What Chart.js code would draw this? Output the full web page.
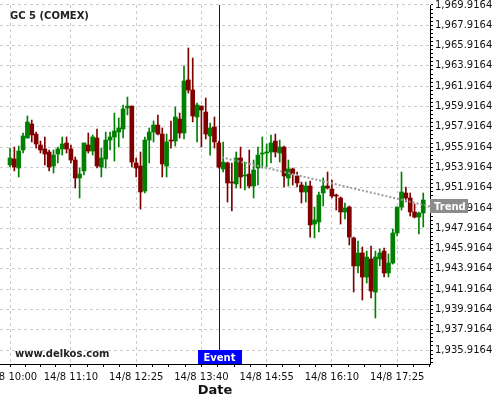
<!DOCTYPE html>
<html>
<head>
<meta charset="utf-8">
<script src="https://cdn.jsdelivr.net/npm/chart.js@4.4.0/dist/chart.umd.min.js"></script>
<style>
  html, body { margin: 0; padding: 0; background: #fff; }
  #wrap { width: 500px; height: 400px; position: relative; }
</style>
</head>
<body>
<div id="wrap"><canvas id="chart"></canvas></div>
<script>
// 5 minute candles, 14/8 starting 10:00
const opens = [
  1954.15,1954.74,1953.85,1955.63,1956.81,1958.19,1957.20,1956.12,1955.73,1955.43,
  1954.05,1955.23,1955.73,1956.32,1955.73,1954.64,1952.87,1953.56,1956.12,1955.53,
  1956.81,1953.95,1954.74,1956.61,1956.91,1957.40,1957.70,1959.77,1959.96,1954.35,
  1954.05,1951.59,1956.61,1957.40,1958.09,1957.20,1954.05,1956.61,1956.51,1958.68,
  1957.30,1962.53,1961.54,1958.88,1959.96,1959.37,1957.01,1957.89,1956.32,1953.76,
  1954.35,1952.47,1952.28,1954.84,1953.07,1953.26,1952.08,1953.85,1955.23,1955.33,
  1955.43,1956.51,1955.33,1955.92,1952.87,1953.76,1953.07,1952.18,1951.49,1952.08,
  1948.33,1948.53,1951.39,1952.08,1951.78,1951.19,1950.90,1949.52,1950.01,1946.96,
  1944.20,1945.48,1943.11,1944.89,1941.63,1944.89,1945.67,1943.51,1944.49,1947.45,
  1950.01,1951.39,1950.90,1949.52,1949.02,1949.42
];
const highs = [
  1955.82,1955.92,1956.02,1957.30,1958.98,1958.58,1957.40,1956.51,1956.91,1955.63,
  1955.63,1955.92,1956.91,1956.91,1956.12,1954.94,1953.85,1956.32,1957.30,1957.11,
  1957.70,1955.82,1957.40,1957.40,1959.27,1958.78,1960.06,1960.85,1959.96,1954.84,
  1955.43,1956.91,1957.80,1958.49,1959.08,1957.80,1957.20,1958.49,1959.87,1959.27,
  1963.91,1965.68,1964.69,1960.26,1959.96,1960.75,1958.29,1958.88,1956.51,1956.42,
  1954.44,1954.35,1955.43,1955.92,1954.44,1955.63,1954.64,1955.92,1956.91,1956.22,
  1957.11,1957.20,1956.61,1956.02,1954.64,1953.85,1953.46,1952.47,1952.47,1952.57,
  1950.01,1951.49,1952.87,1953.46,1952.67,1951.29,1951.00,1950.40,1950.11,1947.05,
  1946.66,1946.07,1945.67,1946.17,1945.67,1945.87,1945.97,1945.38,1947.84,1950.01,
  1953.46,1951.98,1951.39,1950.31,1949.52,1951.39
];
const lows = [
  1953.95,1953.56,1952.97,1955.33,1956.81,1956.42,1955.82,1955.33,1954.15,1953.56,
  1953.36,1954.35,1955.13,1955.33,1954.35,1951.88,1950.90,1953.16,1955.33,1955.13,
  1953.85,1952.97,1953.85,1955.63,1954.54,1955.92,1956.81,1959.08,1953.95,1952.97,
  1949.81,1951.39,1954.35,1956.42,1957.11,1952.97,1952.97,1955.82,1956.02,1956.81,
  1956.71,1961.24,1958.39,1956.42,1955.92,1956.71,1955.13,1955.82,1953.85,1953.46,
  1950.50,1949.62,1951.88,1951.88,1951.69,1951.88,1950.90,1952.18,1953.85,1953.95,
  1954.35,1954.94,1954.44,1951.98,1952.08,1952.18,1951.98,1950.40,1950.50,1947.05,
  1946.96,1947.55,1950.11,1951.78,1950.90,1949.71,1948.33,1948.83,1946.27,1941.63,
  1943.51,1940.84,1942.52,1941.04,1939.07,1944.20,1943.11,1943.11,1944.39,1947.15,
  1949.71,1950.50,1949.12,1948.93,1947.35,1948.04
];
const closes = [
  1954.84,1953.95,1955.53,1957.01,1958.39,1957.11,1956.22,1955.63,1955.23,1953.95,
  1955.13,1955.73,1956.22,1955.73,1954.64,1952.87,1953.26,1956.32,1955.53,1956.91,
  1954.05,1954.84,1956.61,1956.91,1957.50,1957.80,1959.67,1959.96,1954.44,1953.85,
  1951.49,1956.61,1957.40,1958.09,1957.20,1954.25,1956.42,1956.51,1958.88,1957.30,
  1962.43,1961.54,1958.98,1960.06,1959.57,1957.20,1957.80,1956.42,1953.95,1954.44,
  1952.38,1952.38,1954.84,1952.97,1953.16,1952.08,1953.66,1955.13,1955.33,1955.43,
  1956.32,1955.43,1955.92,1953.07,1953.76,1953.26,1952.38,1951.49,1952.08,1948.24,
  1948.73,1951.19,1952.08,1951.88,1951.09,1951.09,1949.52,1949.91,1947.05,1944.20,
  1945.48,1943.11,1945.08,1941.73,1945.08,1945.48,1943.51,1944.49,1947.45,1950.01,
  1951.49,1950.90,1949.52,1949.02,1949.42,1950.70
];

const xTickIdx = [0, 14, 29, 44, 59, 74, 89];
const xTickLabels = ['14/8 10:00', '14/8 11:10', '14/8 12:25', '14/8 13:40', '14/8 14:55', '14/8 16:10', '14/8 17:25'];
const eventIdx = 48;
const trendX = [48.7, 96.55];
const trendY = [1954.90, 1950.07];

const xMin = -2.3, xMax = 96.55;
const yMin = 1934.54, yMax = 1969.9164;
const yLabelBase = 1935.9164, yLabelStep = 2, yMinorStep = 0.4;

const UP = '#008000', DOWN = '#800000';

// --- ticks ---
const xTicks = [];
xTickIdx.forEach((v, m) => {
  xTicks.push(v);
  const next = m + 1 < xTickIdx.length ? xTickIdx[m + 1] : v + 15;
  const step = (next - v) / 4;
  for (let k = 1; k < 4; k++) if (v + step * k <= xMax) xTicks.push(v + step * k);
});
const isMajorX = v => xTickIdx.includes(v);

const yTicks = [];
for (let v = yLabelBase; v >= yMin; v -= yMinorStep) yTicks.push(v);
for (let v = yLabelBase + yMinorStep; v <= yMax + 1e-6; v += yMinorStep) yTicks.push(v);
yTicks.sort((a, b) => a - b);
const isMajorY = v => {
  const r = (v - yLabelBase) / yLabelStep;
  return Math.abs(r - Math.round(r)) < 1e-4;
};
const fmtY = v => v.toLocaleString('en-US', { minimumFractionDigits: 4, maximumFractionDigits: 4 });

// --- candle data ---
const colors = opens.map((o, i) => closes[i] >= o ? UP : DOWN);
const bodies = opens.map((o, i) => ({ x: i, y: [Math.min(o, closes[i]), Math.max(o, closes[i])] }));
const wicks = lows.map((l, i) => ({ x: i, y: [l, highs[i]] }));
const trend = trendX.map((x, i) => ({ x: x, y: trendY[i] }));

const overlay = {
  id: 'overlay',
  afterDraw(chart) {
    const { ctx, chartArea: a, scales: { x, y } } = chart;
    ctx.save();
    // event line + tag
    const ex = Math.round(x.getPixelForValue(eventIdx)) + 0.5;
    ctx.strokeStyle = '#0000ff';
    ctx.lineWidth = 1;
    ctx.beginPath();
    ctx.moveTo(ex, a.top);
    ctx.lineTo(ex, a.bottom);
    ctx.stroke();
    ctx.fillStyle = '#0000ff';
    ctx.fillRect(Math.round(ex) - 22, a.bottom - 14, 44, 14);
    ctx.fillStyle = '#fff';
    ctx.font = 'bold 10px "DejaVu Sans"';
    ctx.textAlign = 'center';
    ctx.textBaseline = 'alphabetic';
    ctx.fillText('Event', ex, a.bottom - 3);

    // trend tag on the axis
    const ty = Math.round(y.getPixelForValue(trendY[1]));
    ctx.fillStyle = '#8c8c8c';
    ctx.fillRect(a.right, ty - 7, 38, 14);
    ctx.fillStyle = '#fff';
    ctx.textAlign = 'left';
    ctx.fillText('Trend', a.right + 4, ty + 4);

    // title and site
    ctx.fillStyle = '#222';
    ctx.fillText('GC 5 (COMEX)', 10, 19);
    ctx.fillText('www.delkos.com', 15, 357);
    ctx.restore();
  }
};

new Chart(document.getElementById('chart'), {
  type: 'bar',
  data: {
    datasets: [
      {
        type: 'line',
        data: trend,
        borderColor: '#9a9a9a',
        borderWidth: 2,
        borderDash: [2, 2],
        pointRadius: 0,
        fill: false
      },
      {
        data: bodies,
        backgroundColor: colors,
        barThickness: 4,
        minBarLength: 1,
        grouped: false
      },
      {
        data: wicks,
        backgroundColor: colors,
        barThickness: 1,
        grouped: false
      }
    ]
  },
  options: {
    responsive: true,
    maintainAspectRatio: false,
    animation: false,
    layout: { padding: { top: 5, left: 0, right: 0, bottom: 0 } },
    plugins: { legend: { display: false }, tooltip: { enabled: false } },
    scales: {
      x: {
        type: 'linear',
        min: xMin,
        max: xMax,
        offset: false,
        afterBuildTicks: s => { s.ticks = xTicks.map(v => ({ value: v })); },
        afterFit: s => { s.height = 36; s.paddingLeft = 0; s.paddingRight = 0; },
        ticks: {
          autoSkip: false,
          maxRotation: 0,
          padding: 4,
          color: '#111',
          font: { size: 10, family: 'DejaVu Sans' },
          callback: v => {
            const k = xTickIdx.indexOf(v);
            return k >= 0 ? xTickLabels[k] : '';
          }
        },
        grid: {
          offset: false,
          color: c => (c.tick && isMajorX(c.tick.value)) ? '#cccccc' : 'rgba(0,0,0,0)',
          tickColor: '#000',
          tickLength: 3
        },
        border: { color: '#000', dash: [3, 3] },
        title: {
          display: true,
          text: 'Date',
          color: '#111',
          font: { size: 13, weight: 'bold', family: 'DejaVu Sans' },
          padding: { top: 0, bottom: 2 }
        }
      },
      y: {
        type: 'linear',
        position: 'right',
        min: yMin,
        max: yMax,
        beginAtZero: false,
        afterBuildTicks: s => { s.ticks = yTicks.map(v => ({ value: v })); },
        afterFit: s => { s.width = 70; s.paddingTop = 0; s.paddingBottom = 0; },
        ticks: {
          autoSkip: false,
          padding: 2,
          color: '#111',
          font: { size: 10, family: 'DejaVu Sans' },
          callback: v => isMajorY(v) ? fmtY(v) : ''
        },
        grid: {
          color: c => (c.tick && isMajorY(c.tick.value)) ? '#cccccc' : 'rgba(0,0,0,0)',
          tickColor: '#000',
          tickLength: 3
        },
        border: { color: '#000', dash: [3, 3] }
      }
    }
  },
  plugins: [overlay]
});
</script>
</body>
</html>
